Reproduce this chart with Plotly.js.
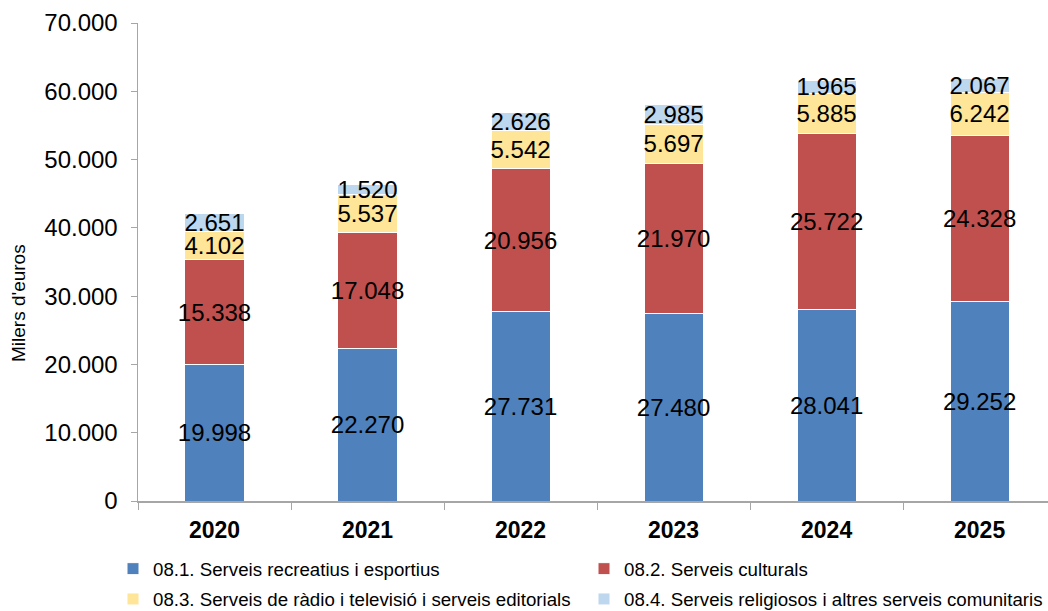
<!DOCTYPE html>
<html>
<head>
<meta charset="utf-8">
<script src="https://cdn.plot.ly/plotly-3.0.1.min.js"></script>
<style>html,body{margin:0;padding:0;background:#fff;}#chart{width:1048px;height:611px;}</style>
</head>
<body>
<div id="chart"></div>
<script>
var years = ["2020", "2021", "2022", "2023", "2024", "2025"];
var seriesNames = [
  "08.1. Serveis recreatius i esportius",
  "08.2. Serveis culturals",
  "08.3. Serveis de ràdio i televisió i serveis editorials",
  "08.4. Serveis religiosos i altres serveis comunitaris"
];
var recreatius = [19998, 22270, 27731, 27480, 28041, 29252];
var culturals = [15338, 17048, 20956, 21970, 25722, 24328];
var radioTv = [4102, 5537, 5542, 5697, 5885, 6242];
var religiosos = [2651, 1520, 2626, 2985, 1965, 2067];
var colors = ["#4F81BD", "#C0504D", "#FFE597", "#BDD7EE"];
var yTitle = "Milers d'euros";

var FONT = "Liberation Sans, Arial, sans-serif";
var values = [recreatius, culturals, radioTv, religiosos];
// legend columns: first column holds 08.1 and 08.3, second 08.2 and 08.4
var legendIds = ["legend", "legend2", "legend", "legend2"];
var traces = values.map(function (v, i) {
  return {
    type: "bar",
    x: years,
    y: v,
    name: seriesNames[i],
    legend: legendIds[i],
    legendgroup: "g" + i,
    marker: { color: colors[i], line: { color: "#FFFFFF", width: 1 } },
    texttemplate: "%{y:,.0f}",
    textposition: "inside",
    insidetextanchor: "middle",
    constraintext: "none",
    textangle: 0,
    textfont: { family: FONT, size: 24, color: "#000000" },
    cliponaxis: false,
    hoverinfo: "skip"
  };
});

var PLOT_L = 138, PLOT_W = 910;
function legendAt(xPx) {
  return {
    orientation: "v",
    xref: "paper",
    x: (xPx - PLOT_L) / PLOT_W,
    xanchor: "left",
    yref: "container",
    y: (611 - 550) / 611,
    yanchor: "top",
    traceorder: "grouped",
    tracegroupgap: 3,
    font: { family: FONT, size: 18.7, color: "#000000" },
    bgcolor: "rgba(0,0,0,0)"
  };
}

var layout = {
  width: 1048,
  height: 611,
  margin: { l: PLOT_L, r: 0, t: 23, b: 110 },
  paper_bgcolor: "#FFFFFF",
  plot_bgcolor: "#FFFFFF",
  barmode: "stack",
  bargap: 0.614,
  separators: ",.",
  font: { family: FONT, color: "#000000" },
  xaxis: {
    type: "category",
    range: [-0.5, 5.447],
    showline: true,
    linecolor: "#A6A6A6",
    linewidth: 1.5,
    ticks: "outside",
    tickson: "boundaries",
    ticklen: 7,
    tickcolor: "#A6A6A6",
    ticklabelstandoff: 8,
    tickfont: { family: FONT, size: 23, color: "#000000", weight: "bold" },
    showgrid: false,
    zeroline: false
  },
  yaxis: {
    range: [0, 70000],
    dtick: 10000,
    tickformat: ",d",
    showline: true,
    linecolor: "#A6A6A6",
    linewidth: 1.5,
    ticks: "outside",
    ticklen: 6,
    tickcolor: "#A6A6A6",
    ticklabelstandoff: 8,
    tickfont: { family: FONT, size: 24, color: "#000000" },
    showgrid: false,
    zeroline: false
  },
  showlegend: true,
  legend: legendAt(113),
  legend2: legendAt(586),
  annotations: [{
    text: yTitle,
    xref: "paper",
    yref: "paper",
    x: -0.132,
    xanchor: "center",
    y: 0.414,
    yanchor: "middle",
    textangle: -90,
    showarrow: false,
    font: { family: FONT, size: 19, color: "#000000" }
  }]
};

Plotly.newPlot("chart", traces, layout, { displayModeBar: false, staticPlot: true });
</script>
</body>
</html>
